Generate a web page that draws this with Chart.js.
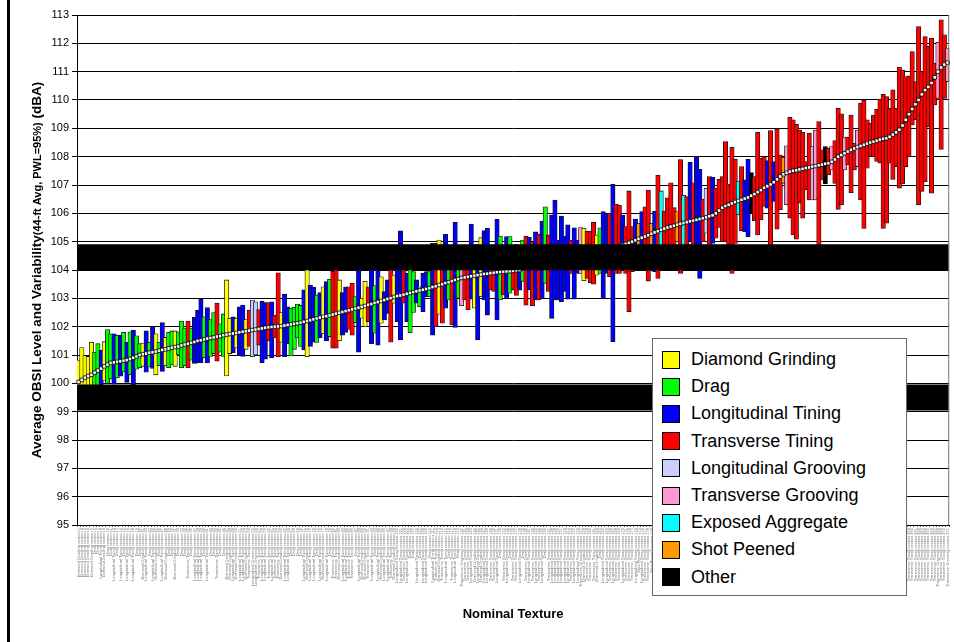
<!DOCTYPE html>
<html lang="en">
<head>
<meta charset="UTF-8">
<title>Average OBSI Level and Variability by Nominal Texture</title>
<script src="https://cdn.jsdelivr.net/npm/chart.js"></script>
<style>
    body {
        margin: 0;
        background: #fff;
        font-family: Arial, 'Liberation Sans', sans-serif;
    }
    #wrap {
        position: relative;
        width: 954px;
        height: 642px;
    }
    #frameLeft {
        position: absolute;
        left: 7px;
        top: 0;
        width: 3px;
        height: 642px;
        background: #000;
    }
    #legend {
        position: absolute;
        left: 652px;
        top: 338px;
        width: 255px;
        height: 258px;
        box-sizing: border-box;
        background: #fff;
        border: 1px solid #666;
        padding-top: 7px;
    }
    .item {
        height: 27.2px;
        display: flex;
        align-items: center;
        font-size: 18px;
        color: #000;
    }
    .sw {
        width: 16px;
        height: 16px;
        border: 1px solid #000;
        margin-left: 9px;
        margin-right: 11px;
    }
</style>
</head>
<body>
<div id="wrap">
    <canvas id="obsiChart" width="954" height="642"></canvas>
    <div id="frameLeft"></div>
    <div id="legend"></div>
</div>

<script>
// texture types (legend order)
const textureNames = ['Diamond Grinding', 'Drag', 'Longitudinal Tining', 'Transverse Tining',
    'Longitudinal Grooving', 'Transverse Grooving', 'Exposed Aggregate', 'Shot Peened', 'Other'];
const textureCodes = ['Y', 'G', 'B', 'R', 'L', 'P', 'C', 'O', 'K'];
const textureColors = ['#FFFF00', '#00FF00', '#0000FF', '#FF0000', '#CCCCFF', '#FF99CC', '#00FFFF', '#FF9900', '#000000'];

// texture of every test section, sorted by average level
const barTypes = [
    'YYYYYGGBYG', 'GBGBGBGBGG', 'YBGBYGBYGG', 'YGGGRGBBBG', 'BGGRGGYYBY',
    'BBYRLLRBBR', 'BRRYBBGGGG', 'BYBBGBYBGR', 'RYBBRRGBYY', 'RBGBYBBRYB',
    'BRBGGBGBBG', 'BRYRBGRBGP', 'RRBYBYBBRR', 'BGRBGRRBGR', 'BRBRBGRBBB',
    'BBBRBBPYRR', 'RYGBBRBRRB', 'RRRBOBRROB', 'RCRRRRORCR', 'BRBBRLRBRR',
    'RRRRRCRBBK', 'RRRRBRBRRO', 'PRRRRRRRPP', 'RRKRPRRRPR', 'RRPRRRRRRR',
    'RRRRRRRRRR', 'RRRRRRRPRR', 'P'
].join('').split('');

// 44-ft average OBSI level (dBA)
const avgLevel = [
    100.05, 100.12, 100.2, 100.26, 100.3, 100.38, 100.45, 100.52, 100.6, 100.66,
    100.72, 100.74, 100.76, 100.78, 100.8, 100.82, 100.86, 100.9, 100.95, 101.0,
    101.03, 101.05, 101.08, 101.1, 101.12, 101.15, 101.18, 101.2, 101.23, 101.26,
    101.28, 101.3, 101.34, 101.37, 101.4, 101.43, 101.46, 101.5, 101.52, 101.55,
    101.58, 101.6, 101.62, 101.65, 101.67, 101.7, 101.72, 101.74, 101.76, 101.78,
    101.8, 101.82, 101.84, 101.86, 101.88, 101.9, 101.92, 101.94, 101.96, 101.98,
    101.99, 102.0, 102.01, 102.02, 102.04, 102.06, 102.08, 102.1, 102.12, 102.14,
    102.17, 102.2, 102.23, 102.26, 102.29, 102.32, 102.35, 102.37, 102.4, 102.43,
    102.46, 102.49, 102.52, 102.55, 102.58, 102.61, 102.64, 102.67, 102.7, 102.73,
    102.77, 102.8, 102.84, 102.87, 102.91, 102.94, 102.98, 103.01, 103.05, 103.08,
    103.1, 103.13, 103.16, 103.19, 103.22, 103.25, 103.28, 103.3, 103.33, 103.36,
    103.4, 103.43, 103.47, 103.5, 103.54, 103.57, 103.61, 103.65, 103.68, 103.72,
    103.74, 103.76, 103.78, 103.8, 103.82, 103.84, 103.86, 103.87, 103.89, 103.9,
    103.92, 103.93, 103.94, 103.95, 103.96, 103.97, 103.99, 104.0, 104.05, 104.1,
    104.14, 104.18, 104.21, 104.24, 104.27, 104.3, 104.33, 104.36, 104.38, 104.4,
    104.42, 104.44, 104.45, 104.47, 104.49, 104.51, 104.53, 104.55, 104.57, 104.6,
    104.62, 104.64, 104.66, 104.69, 104.72, 104.75, 104.78, 104.81, 104.84, 104.88,
    104.92, 104.96, 105.0, 105.05, 105.1, 105.14, 105.18, 105.23, 105.28, 105.33,
    105.37, 105.42, 105.46, 105.5, 105.53, 105.56, 105.6, 105.63, 105.66, 105.69,
    105.72, 105.74, 105.77, 105.8, 105.83, 105.86, 105.9, 105.93, 106.0, 106.1,
    106.2, 106.26, 106.3, 106.35, 106.4, 106.44, 106.48, 106.52, 106.56, 106.62,
    106.68, 106.75, 106.82, 106.9, 106.96, 107.02, 107.1, 107.2, 107.3, 107.38,
    107.43, 107.47, 107.5, 107.52, 107.55, 107.57, 107.6, 107.62, 107.65, 107.67,
    107.7, 107.72, 107.75, 107.77, 107.82, 107.9, 108.0, 108.06, 108.12, 108.18,
    108.24, 108.29, 108.34, 108.38, 108.42, 108.46, 108.5, 108.53, 108.56, 108.6,
    108.63, 108.65, 108.7, 108.78, 108.86, 108.95, 109.1, 109.3, 109.5, 109.68,
    109.85, 110.0, 110.2, 110.35, 110.46, 110.6, 110.8, 111.0, 111.15, 111.25,
    111.32
];

// variability range (PWL=95%), low end
const lowLevel = [
    99.6, 99.7, 99.5, 99.8, 99.9, 99.7, 99.9, 99.6, 100.1, 100.0,
    100.15, 99.97, 100.2, 100.25, 100.4, 100.03, 100.3, 99.9, 100.5, 100.55,
    100.6, 100.39, 100.58, 100.53, 100.3, 100.62, 100.42, 100.62, 100.55, 100.65,
    100.6, 101.0, 100.55, 100.62, 100.55, 100.82, 100.7, 100.72, 100.73, 100.9,
    100.72, 100.95, 101.05, 100.78, 101.1, 100.95, 100.26, 101.05, 101.08, 101.25,
    101.0, 100.95, 101.2, 101.3, 100.94, 101.0, 101.35, 100.73, 100.85, 101.5,
    100.9, 101.6, 100.94, 101.45, 100.94, 101.4, 100.97, 101.2, 101.6, 101.3,
    101.18, 100.94, 101.3, 101.45, 101.44, 101.6, 101.75, 101.5, 101.65, 101.24,
    101.24, 101.5, 101.7, 101.8, 101.9, 101.7, 102.14, 101.1, 102.3, 102.0,
    102.18, 101.4, 101.77, 101.35, 102.12, 102.24, 102.47, 101.45, 102.83, 102.18,
    101.53, 102.83, 102.18, 101.79, 102.5, 102.83, 102.7, 102.53, 103.06, 103.06,
    101.7, 102.0, 102.44, 102.12, 102.65, 102.94, 102.06, 101.97, 103.0, 102.74,
    102.94, 102.59, 102.97, 102.65, 101.53, 103.06, 102.94, 102.41, 103.3, 103.24,
    102.24, 102.94, 103.12, 103.0, 103.18, 103.3, 103.1, 103.29, 103.6, 102.76,
    103.3, 102.73, 102.94, 102.94, 103.0, 103.53, 103.24, 102.29, 102.94, 102.94,
    102.88, 103.24, 102.97, 103.88, 102.97, 103.88, 103.88, 103.62, 103.7, 103.55,
    103.5, 103.82, 103.88, 103.0, 103.88, 103.76, 101.47, 103.88, 103.88, 104.1,
    103.88, 102.53, 103.94, 104.12, 104.2, 104.2, 104.35, 103.61, 104.88, 103.94,
    103.7, 104.85, 104.0, 104.35, 104.35, 104.65, 105.0, 103.88, 104.35, 104.7,
    105.0, 104.82, 104.12, 103.7, 105.0, 105.3, 104.9, 104.94, 105.12, 105.5,
    105.0, 105.0, 104.88, 103.88, 104.94, 105.95, 105.39, 105.35, 105.18, 105.98,
    105.74, 105.24, 105.77, 106.24, 106.18, 104.6, 106.42, 105.44, 106.12, 107.06,
    106.3, 105.83, 105.24, 105.09, 106.36, 105.83, 106.83, 106.47, 106.47, 106.47,
    104.7, 107.18, 107.04, 107.36, 107.53, 107.06, 106.14, 106.3, 107.53, 107.71,
    106.73, 107.53, 107.65, 106.47, 105.47, 107.59, 108.0, 108.0, 107.83, 107.77,
    105.47, 105.65, 107.77, 107.2, 107.65, 106.89, 107.04, 107.65, 108.0, 109.12,
    109.3, 106.3, 106.77, 107.12, 109.06, 106.71, 109.83, 110.06, 108.26, 110.06,
    110.65
];

// variability range (PWL=95%), high end
const highLevel = [
    100.82, 101.26, 100.98, 100.95, 101.45, 101.1, 101.4, 101.17, 101.47, 101.9,
    101.75, 101.75, 101.7, 101.7, 101.8, 101.45, 101.82, 101.88, 101.68, 101.4,
    101.42, 101.85, 101.45, 102.0, 101.75, 101.45, 102.14, 101.62, 101.8, 101.85,
    101.85, 101.82, 102.2, 101.95, 102.2, 101.95, 102.33, 102.58, 102.97, 102.35,
    102.67, 102.25, 102.5, 102.83, 102.1, 102.45, 103.65, 102.3, 102.35, 102.3,
    102.7, 102.76, 102.25, 102.58, 102.94, 102.88, 102.6, 102.9, 102.85, 102.85,
    102.88, 102.4, 103.9, 102.5, 103.15, 102.7, 102.65, 102.68, 102.8, 102.75,
    103.3, 104.1, 103.47, 103.4, 103.12, 103.2, 103.41, 103.59, 103.67, 103.95,
    104.3, 103.65, 103.2, 103.41, 103.41, 103.53, 103.06, 104.4, 103.0, 103.6,
    103.41, 104.5, 103.45, 104.6, 103.76, 103.24, 103.65, 104.4, 103.82, 104.3,
    105.38, 104.5, 103.88, 104.2, 103.94, 103.65, 103.41, 103.88, 103.94, 103.94,
    104.94, 104.94, 105.06, 104.5, 105.26, 104.4, 104.6, 105.68, 104.5, 104.3,
    104.5, 104.6, 105.62, 104.6, 104.9, 105.14, 105.39, 105.47, 104.7, 104.6,
    105.79, 105.2, 104.7, 105.18, 105.18, 104.8, 104.9, 104.7, 105.06, 105.2,
    105.15, 105.0, 105.35, 105.26, 105.73, 106.23, 105.24, 105.94, 106.47, 105.06,
    105.9, 105.2, 105.59, 105.06, 105.49, 105.06, 105.5, 105.47, 105.37, 105.37,
    105.68, 105.23, 105.49, 106.06, 106.0, 106.0, 107.02, 106.33, 106.29, 105.94,
    105.53, 106.79, 105.53, 105.8, 105.65, 106.06, 106.23, 106.82, 105.65, 106.08,
    107.35, 106.79, 106.08, 106.55, 107.08, 106.2, 106.06, 107.9, 106.64, 106.59,
    107.8, 107.08, 108.0, 107.55, 106.5, 106.88, 107.3, 107.27, 106.88, 107.2,
    107.3, 108.53, 107.03, 108.33, 107.91, 107.12, 107.65, 107.18, 107.91, 107.44,
    107.3, 108.86, 107.95, 108.0, 107.86, 108.92, 107.83, 108.98, 108.06, 107.98,
    108.38, 109.39, 109.3, 109.14, 108.94, 108.86, 107.83, 108.83, 108.36, 108.94,
    109.24, 108.24, 108.36, 108.3, 108.36, 108.57, 109.71, 109.51, 108.69, 108.69,
    109.47, 108.47, 108.94, 109.89, 110.0, 109.3, 109.18, 109.47, 109.67, 110.03,
    110.2, 110.12, 109.71, 110.36, 109.71, 111.16, 111.06, 110.83, 110.85, 111.71,
    110.65, 112.59, 111.0, 112.24, 111.89, 112.18, 111.3, 112.04, 112.83, 112.3,
    111.83
];

// the two wide "Other" bands
const otherBands = [[99.05, 99.95], [104.0, 104.9]];

const yMin = 95, yMax = 113, yStep = 1;

// section labels (too small to read in the figure)
const sectionLabels = barTypes.map((c, i) => textureNames[textureCodes.indexOf(c)] + ' section ' + (i + 1));
const barColors = barTypes.map(c => textureColors[textureCodes.indexOf(c)]);
const ranges = lowLevel.map((lo, i) => [lo, highLevel[i]]);

const FONT = "Arial, 'Liberation Sans', sans-serif";
Chart.defaults.font.family = FONT;

// legend box
const legendBox = document.getElementById('legend');
textureNames.forEach((name, i) => {
    const row = document.createElement('div');
    row.className = 'item';
    row.innerHTML = '<span class="sw" style="background:' + textureColors[i] + '"></span>' + name;
    legendBox.appendChild(row);
});

// axis titles and right frame line
const titlesPlugin = {
    id: 'titles',
    afterDraw(chart) {
        const ctx = chart.ctx;
        const area = chart.chartArea;
        ctx.save();
        ctx.strokeStyle = '#777';
        ctx.lineWidth = 1;
        ctx.beginPath();
        ctx.moveTo(area.right - 0.5, area.top);
        ctx.lineTo(area.right - 0.5, area.bottom);
        ctx.stroke();

        ctx.fillStyle = '#000';
        ctx.textBaseline = 'alphabetic';
        ctx.textAlign = 'left';
        const parts = [
            ['Average OBSI Level and Variability', 'bold 13.5px ' + FONT],
            ['(44-ft Avg, PWL=95%)', 'bold 11px ' + FONT],
            [' (dBA)', 'bold 13.5px ' + FONT]
        ];
        let total = 0;
        parts.forEach(p => { ctx.font = p[1]; total += ctx.measureText(p[0]).width; });
        ctx.translate(36, (area.top + area.bottom) / 2);
        ctx.rotate(-Math.PI / 2);
        let x = -total / 2;
        parts.forEach(p => {
            ctx.font = p[1];
            ctx.fillText(p[0], x, 5);
            x += ctx.measureText(p[0]).width;
        });
        ctx.restore();

        ctx.save();
        ctx.fillStyle = '#000';
        ctx.font = 'bold 13px ' + FONT;
        ctx.textAlign = 'center';
        ctx.textBaseline = 'middle';
        ctx.fillText('Nominal Texture', (area.left + area.right) / 2, 614);
        ctx.restore();
    }
};

new Chart(document.getElementById('obsiChart'), {
    type: 'bar',
    data: {
        labels: sectionLabels,
        datasets: [
            {
                type: 'bar',
                label: 'Other',
                xAxisID: 'xb',
                data: [otherBands[0]],
                backgroundColor: '#000',
                borderWidth: 0,
                barPercentage: 1,
                categoryPercentage: 1,
                grouped: false,
                order: 0
            },
            {
                type: 'bar',
                label: 'Other',
                xAxisID: 'xb',
                data: [otherBands[1]],
                backgroundColor: '#000',
                borderWidth: 0,
                barPercentage: 1,
                categoryPercentage: 1,
                grouped: false,
                order: 0
            },
            {
                type: 'line',
                label: 'Average',
                data: avgLevel,
                borderColor: '#000',
                borderWidth: 1,
                pointStyle: 'rect',
                pointRadius: 2.5,
                pointBackgroundColor: '#fff',
                pointBorderColor: '#000',
                pointBorderWidth: 0.8,
                order: 1
            },
            {
                type: 'bar',
                label: 'Range',
                data: ranges,
                backgroundColor: barColors,
                borderColor: '#111',
                borderWidth: 0.8,
                borderSkipped: false,
                barThickness: 4.4,
                grouped: false,
                order: 2
            }
        ]
    },
    options: {
        responsive: false,
        animation: false,
        layout: { padding: { left: 0, right: 4, top: 15, bottom: 0 } },
        plugins: {
            legend: { display: false },
            tooltip: { enabled: false }
        },
        scales: {
            x: {
                offset: true,
                grid: { display: true, drawOnChartArea: false, tickLength: 2, color: '#666' },
                border: { display: true, color: '#000' },
                ticks: {
                    autoSkip: false,
                    minRotation: 90,
                    maxRotation: 90,
                    padding: 1,
                    color: '#777',
                    font: { size: 4 }
                },
                afterFit(scale) { scale.height = 117; }
            },
            xb: {
                type: 'category',
                labels: ['Other'],
                display: false,
                offset: true
            },
            y: {
                min: yMin,
                max: yMax,
                ticks: { stepSize: yStep, color: '#000', padding: 3, font: { size: 11 } },
                grid: { color: '#000', lineWidth: 1, tickLength: 5 },
                border: { display: true, color: '#000', width: 1 },
                afterFit(scale) { scale.width = 77; }
            }
        }
    },
    plugins: [titlesPlugin]
});
</script>
</body>
</html>
